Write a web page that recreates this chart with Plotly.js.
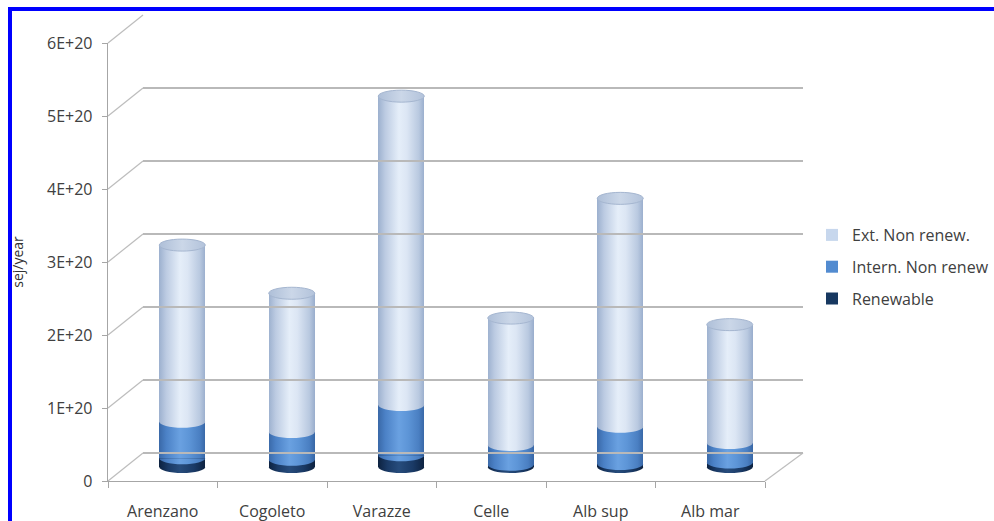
<!DOCTYPE html>
<html>
<head>
<meta charset="utf-8">
<script src="https://cdn.plot.ly/plotly-3.0.1.min.js"></script>
<style>
  html, body { margin: 0; padding: 0; background: #ffffff; }
  #chart { width: 994px; height: 521px; }
</style>
</head>
<body>
<div id="chart"></div>
<script>
// Emergy flows per municipality (sej/year)
const categories = ['Arenzano', 'Cogoleto', 'Varazze', 'Celle', 'Alb sup', 'Alb mar'];
const renewable = [0.12e20, 0.10e20, 0.16e20, 0.03e20, 0.04e20, 0.06e20];
const internNonRenew = [0.50e20, 0.38e20, 0.69e20, 0.27e20, 0.51e20, 0.27e20];
const extNonRenew = [2.42e20, 1.90e20, 4.23e20, 1.74e20, 3.13e20, 1.62e20];
const yTickVals = [0, 1e20, 2e20, 3e20, 4e20, 5e20, 6e20];
const yTickText = ['0', '1E+20', '2E+20', '3E+20', '4E+20', '5E+20', '6E+20'];
const seriesNames = ['Renewable', 'Intern. Non renew', 'Ext. Non renew.'];

const W = 994, H = 521;
const YMAX = 6e20;
// pixel boxes of the front frame, the mid-depth plane (bars) and the back wall
const front = { x0: 108, x1: 765, y0: 481, y1: 43 };
const mid   = { x0: 127.5, x1: 784.5, y0: 467, y1: 29 };
const back  = { x0: 143, x1: 803, y0: 453, y1: 15 };
const px = x => x / W;
const py = y => 1 - y / H;
const yPix = (box, v) => box.y0 - v / YMAX * (box.y0 - box.y1);

// the bar plane reaches a little below zero so the rounded bottoms are not clipped
const pxPerUnit = (mid.y0 - mid.y1) / YMAX;
const midBelow = 0.4e20;
const midBottomPix = mid.y0 + midBelow * pxPerUnit;

const colors = {
  renew: 'rgb(23, 56, 96)',
  intern: 'rgb(82, 139, 208)',
  ext: 'rgb(199, 215, 237)',
  cap: 'rgb(190, 205, 226)'
};

const idx = categories.map((c, i) => i);
const barWidth = 0.42;

const traces = [
  { type: 'bar', name: seriesNames[0], x: idx, y: renewable, width: barWidth, legendrank: 3,
    marker: { color: colors.renew, line: { width: 0 } }, legendgroup: 'c', hoverinfo: 'skip' },
  { type: 'bar', name: seriesNames[1], x: idx, y: internNonRenew, width: barWidth, legendrank: 2,
    marker: { color: colors.intern, line: { width: 0 } }, legendgroup: 'b', hoverinfo: 'skip' },
  { type: 'bar', name: seriesNames[2], x: idx, y: extNonRenew, width: barWidth, legendrank: 1,
    marker: { color: colors.ext, line: { width: 0 } }, legendgroup: 'a', hoverinfo: 'skip' },
  // carriers for the front frame and the back wall axes
  { type: 'scatter', mode: 'markers', x: categories, y: categories.map(() => 0),
    xaxis: 'x3', yaxis: 'y3', marker: { opacity: 0 }, showlegend: false, hoverinfo: 'skip' },
  { type: 'scatter', mode: 'markers', x: idx, y: idx.map(() => 0),
    xaxis: 'x2', yaxis: 'y2', marker: { opacity: 0 }, showlegend: false, hoverinfo: 'skip' }
];

// data-unit height of the ellipse caps (about 6 px)
const capH = 6 / pxPerUnit;
const K = 0.5523;
function lowerHalfEllipse(cx, rx, b, ry) {
  return 'M' + (cx - rx) + ',' + b +
    ' C' + (cx - rx) + ',' + (b - K * ry) + ' ' + (cx - K * rx) + ',' + (b - ry) + ' ' + cx + ',' + (b - ry) +
    ' C' + (cx + K * rx) + ',' + (b - ry) + ' ' + (cx + rx) + ',' + (b - K * ry) + ' ' + (cx + rx) + ',' + b + ' Z';
}

const shapes = [];
// border strips
shapes.push({ type: 'line', xref: 'paper', yref: 'paper', x0: px(8), x1: 1, y0: py(9), y1: py(9),
  line: { color: '#0000ff', width: 4 } });
shapes.push({ type: 'line', xref: 'paper', yref: 'paper', x0: px(10), x1: px(10), y0: py(7), y1: 0,
  line: { color: '#0000ff', width: 4 } });
// side-wall diagonals linking front ticks to back gridlines
yTickVals.forEach(v => {
  shapes.push({ type: 'line', xref: 'paper', yref: 'paper', layer: 'below',
    x0: px(front.x0), y0: py(yPix(front, v)), x1: px(back.x0), y1: py(yPix(back, v)),
    line: { color: '#bdbdbd', width: 1.2 } });
});
// floor right edge
shapes.push({ type: 'line', xref: 'paper', yref: 'paper', layer: 'below',
  x0: px(front.x1), y0: py(front.y0), x1: px(back.x1), y1: py(back.y0),
  line: { color: '#bdbdbd', width: 1.2 } });

// cylinder ends and segment boundaries
idx.forEach(i => {
  const rx = barWidth / 2;
  const b1 = renewable[i];
  const b2 = b1 + internNonRenew[i];
  const top = b2 + extNonRenew[i];
  shapes.push({ type: 'path', xref: 'x', yref: 'y', path: lowerHalfEllipse(i, rx, 0, capH),
    fillcolor: colors.renew, line: { width: 0 } });
  shapes.push({ type: 'path', xref: 'x', yref: 'y', path: lowerHalfEllipse(i, rx, b1, capH),
    fillcolor: colors.intern, line: { width: 0 } });
  shapes.push({ type: 'path', xref: 'x', yref: 'y', path: lowerHalfEllipse(i, rx, b2, capH),
    fillcolor: colors.ext, line: { width: 0 } });
  shapes.push({ type: 'circle', xref: 'x', yref: 'y', x0: i - rx, x1: i + rx, y0: top - capH, y1: top + capH,
    fillcolor: colors.cap, line: { color: 'rgb(165, 182, 208)', width: 1 } });
});

const font = "'Open Sans', 'Noto Sans', sans-serif";
const textColor = '#404040';

const layout = {
  width: W, height: H,
  margin: { l: 0, r: 0, t: 0, b: 0 },
  paper_bgcolor: '#ffffff', plot_bgcolor: 'rgba(0,0,0,0)',
  barmode: 'stack',
  showlegend: true,
  font: { family: font, color: textColor },
  legend: {
    x: px(812), y: py(218), xanchor: 'left', yanchor: 'top',
    traceorder: 'grouped', tracegroupgap: 8,
    font: { size: 16, color: textColor, family: font },
    bgcolor: 'rgba(0,0,0,0)'
  },
  xaxis: { domain: [px(mid.x0), px(mid.x1)], range: [-0.5, categories.length - 0.5], anchor: 'y',
    visible: false, fixedrange: true },
  yaxis: { domain: [py(midBottomPix), py(mid.y1)], range: [-midBelow, YMAX], anchor: 'x',
    visible: false, fixedrange: true },
  xaxis2: { domain: [px(back.x0), px(back.x1)], range: [-0.5, categories.length - 0.5], anchor: 'y2',
    visible: false, fixedrange: true },
  yaxis2: { domain: [py(back.y0), py(back.y1)], range: [0, YMAX], anchor: 'x2',
    tickmode: 'array', tickvals: yTickVals, showticklabels: false, ticks: '',
    showgrid: true, gridcolor: '#b9b9b9', gridwidth: 1.3,
    zeroline: true, zerolinecolor: '#b9b9b9', zerolinewidth: 1.3,
    showline: false, fixedrange: true },
  xaxis3: { domain: [px(front.x0), px(front.x1)], type: 'category',
    categoryorder: 'array', categoryarray: categories,
    range: [-0.5, categories.length - 0.5], anchor: 'y3',
    showline: true, linecolor: '#a6a6a6', linewidth: 1.3,
    ticks: 'outside', tickson: 'boundaries', ticklen: 6, tickcolor: '#a6a6a6',
    ticklabelstandoff: 15,
    showgrid: false, zeroline: false,
    tickfont: { size: 16, color: textColor, family: font }, fixedrange: true },
  yaxis3: { domain: [py(front.y0), py(front.y1)], range: [0, YMAX], anchor: 'x3',
    tickmode: 'array', tickvals: yTickVals, ticktext: yTickText,
    showline: true, linecolor: '#a6a6a6', linewidth: 1.3,
    ticks: 'outside', ticklen: 5, tickcolor: '#a6a6a6', ticklabelstandoff: 6,
    showgrid: false, zeroline: false,
    tickfont: { size: 16, color: textColor, family: font },
    title: { text: 'sej/year', font: { size: 14, color: '#333333', family: font }, standoff: 20 },
    fixedrange: true },
  shapes: shapes
};

// horizontal shading of the cylinders
const gradients = {
  renew: [[0, '#0d2240'], [0.2, '#1a3a66'], [0.45, '#274c7c'], [0.75, '#1a3a66'], [1, '#0d2240']],
  intern: [[0, '#3a69a8'], [0.15, '#4b81c6'], [0.45, '#6aa1e1'], [0.65, '#5d95d7'], [0.88, '#4a7fc2'], [1, '#3867a6']],
  ext: [[0, '#9db1cf'], [0.15, '#bccbe2'], [0.45, '#e5eef9'], [0.62, '#dce6f4'], [0.88, '#b9c9e0'], [1, '#9aaecd']],
  cap: [[0, '#aebfd8'], [0.5, '#cbd7e8'], [1, '#b3c3db']]
};

function applyShading(gd) {
  const svg = gd.querySelector('.main-svg');
  const ns = 'http://www.w3.org/2000/svg';
  let defs = svg.querySelector('defs');
  if (!defs) { defs = document.createElementNS(ns, 'defs'); svg.insertBefore(defs, svg.firstChild); }
  const byColor = {};
  Object.keys(gradients).forEach(key => {
    const g = document.createElementNS(ns, 'linearGradient');
    g.setAttribute('id', 'shade-' + key);
    g.setAttribute('x1', '0'); g.setAttribute('y1', '0');
    g.setAttribute('x2', '1'); g.setAttribute('y2', '0');
    gradients[key].forEach(([o, c]) => {
      const s = document.createElementNS(ns, 'stop');
      s.setAttribute('offset', o);
      s.setAttribute('stop-color', c);
      g.appendChild(s);
    });
    defs.appendChild(g);
    byColor[colors[key].replace(/\s/g, '')] = 'url(#shade-' + key + ')';
  });
  const paths = gd.querySelectorAll('.barlayer path, .shapelayer path');
  paths.forEach(p => {
    const f = (p.style.fill || '').replace(/\s/g, '');
    if (byColor[f]) p.style.fill = byColor[f];
  });
}

const gd = document.getElementById('chart');
Plotly.newPlot(gd, traces, layout, { displayModeBar: false, staticPlot: true })
  .then(() => applyShading(gd));
</script>
</body>
</html>
